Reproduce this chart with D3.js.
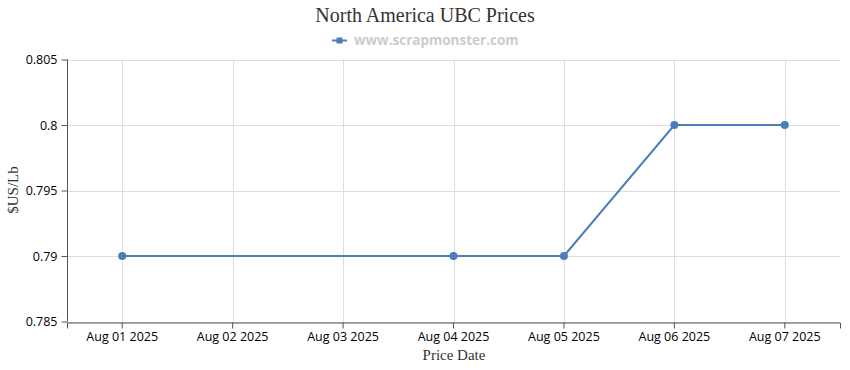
<!DOCTYPE html>
<html><head><meta charset="utf-8">
<script src="https://cdn.jsdelivr.net/npm/d3@7"></script>
<style>body{margin:0;background:#fff}svg{display:block}</style>
</head><body>
<svg id="c" width="850" height="370"></svg>
<script>
const categories = ["Aug 01 2025","Aug 02 2025","Aug 03 2025","Aug 04 2025","Aug 05 2025","Aug 06 2025","Aug 07 2025"];
const pointDates = ["Aug 01 2025","Aug 04 2025","Aug 05 2025","Aug 06 2025","Aug 07 2025"];
const pointValues = [0.79, 0.79, 0.79, 0.80, 0.80];
const yTicks = [0.785, 0.79, 0.795, 0.8, 0.805];
const titleText = "North America UBC Prices";
const legendText = "www.scrapmonster.com";
const yLabel = "$US/Lb";
const xLabel = "Price Date";

const svg = d3.select("#c");
const m = {l:67, r:840, t:59.5, b:321.5};
const x = d3.scaleBand().domain(categories).range([m.l, m.r]);
const y = d3.scaleLinear().domain([0.785, 0.805]).range([m.b, m.t]);
const color = "#4a7ebb";
const sans = "'Open Sans', sans-serif";
const serif = "'Liberation Serif', 'Times New Roman', serif";

// grid
svg.append("g").selectAll("line").data(yTicks).join("line")
  .attr("x1", m.l).attr("x2", m.r).attr("y1", d=>Math.round(y(d))+0.5).attr("y2", d=>Math.round(y(d))+0.5)
  .attr("stroke", "#ddd").attr("stroke-width", 1);
svg.append("g").selectAll("line").data(categories).join("line")
  .attr("x1", d=>Math.round(x(d)+x.bandwidth()/2)+0.5).attr("x2", d=>Math.round(x(d)+x.bandwidth()/2)+0.5)
  .attr("y1", m.t).attr("y2", m.b)
  .attr("stroke", "#ddd").attr("stroke-width", 1);

// axes
const gy = svg.append("g").attr("transform", `translate(${m.l+0.5},0)`)
  .call(d3.axisLeft(y).tickValues(yTicks).tickFormat(d=>String(+d.toFixed(3))).tickSize(6).tickPadding(4));
const gx = svg.append("g").attr("transform", `translate(0,${Math.round(m.b)+0.5})`)
  .call(d3.axisBottom(x).tickSize(6).tickPadding(4));
[gy, gx].forEach(g => {
  g.select(".domain").attr("stroke", "#555");
  g.selectAll(".tick line").attr("stroke", "#555");
  g.selectAll(".tick text").attr("fill", "#000").style("font-family", sans).style("font-size", "12.5px");
});
gy.select(".domain").attr("d", `M0,${m.t}V${m.b}`);

// line
const pts = pointDates.map((d,i)=>({d, v:pointValues[i]}));
const line = d3.line().x(p=>x(p.d)+x.bandwidth()/2).y(p=>y(p.v));
svg.append("path").datum(pts).attr("d", line).attr("fill","none").attr("stroke", color).attr("stroke-width", 2);
svg.append("g").selectAll("circle").data(pts).join("circle")
  .attr("cx", p=>x(p.d)+x.bandwidth()/2).attr("cy", p=>y(p.v)).attr("r", 4).attr("fill", color);

// title
svg.append("text").attr("x", 425).attr("y", 22).attr("text-anchor","middle")
  .style("font-family", serif).style("font-size","20px").attr("fill","#333").text(titleText);
// legend
const lg = svg.append("g");
lg.append("line").attr("x1",332).attr("x2",347).attr("y1",40.5).attr("y2",40.5).attr("stroke",color).attr("stroke-width",2);
lg.append("rect").attr("x",336.5).attr("y",37.5).attr("width",6).attr("height",6).attr("fill",color);
lg.append("text").attr("x",354).attr("y",45).style("font-family",sans).style("font-size","13.5px").style("font-weight","bold")
  .attr("fill","#ccc").text(legendText);

// axis labels
svg.append("text").attr("transform","translate(18,190) rotate(-90)").attr("text-anchor","middle")
  .style("font-family",serif).style("font-size","15px").attr("fill","#333").text(yLabel);
svg.append("text").attr("x",454).attr("y",360).attr("text-anchor","middle")
  .style("font-family",serif).style("font-size","15px").attr("fill","#333").text(xLabel);
</script>
</body></html>
